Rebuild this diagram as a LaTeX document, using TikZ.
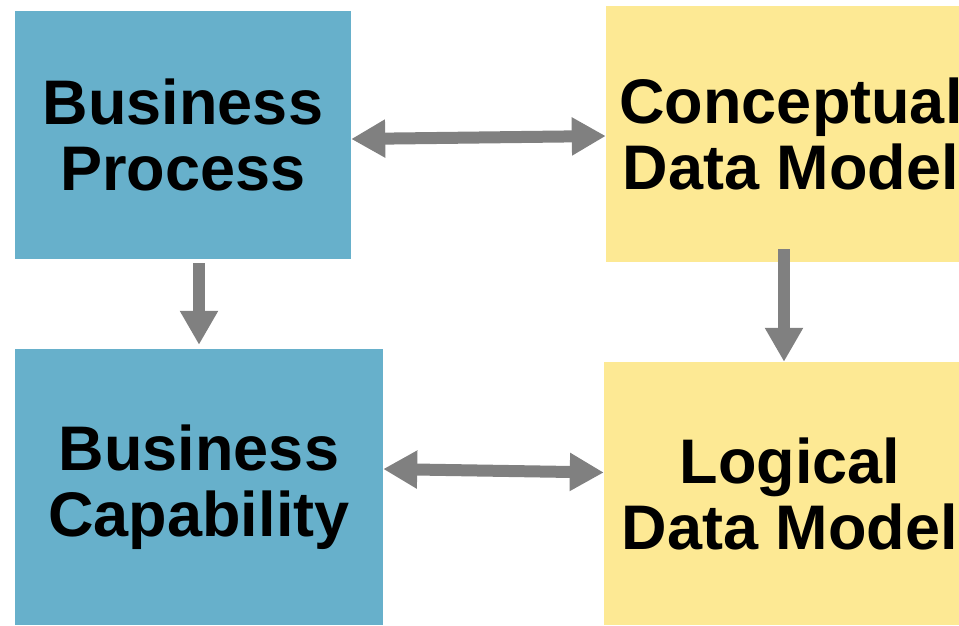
\documentclass[tikz,border=0pt]{standalone}
\usepackage{fontspec}
\setmainfont{Liberation Sans}
\usetikzlibrary{arrows.meta}
\definecolor{boxblue}{HTML}{67B0CB}
\definecolor{boxyellow}{HTML}{FDE994}
\definecolor{arrgray}{HTML}{808080}
\tikzset{
  box/.style={inner sep=0pt, align=center, font=\fontsize{63}{66}\selectfont\bfseries},
  bluebox/.style={box, fill=boxblue},
  yellowbox/.style={box, fill=boxyellow},
  arr/.style={draw=arrgray, line width=12pt, -{Triangle[length=34pt,width=36pt]}},
  darr/.style={draw=arrgray, line width=12pt, {Triangle[length=34pt,width=36pt]}-{Triangle[length=34pt,width=36pt]}}
}
\begin{document}
\begin{tikzpicture}[x=1pt,y=-1pt]
\useasboundingbox (0,0) rectangle (959,625);
\node[bluebox, minimum width=336pt, minimum height=248pt] (bp) at (183,135) {Business\\Process};
\node[yellowbox, minimum width=370pt, minimum height=256pt] (cdm) at (791,134) {Conceptual\\Data Model};
\node[bluebox, minimum width=368pt, minimum height=276pt] (bc) at (199,487) {Business\\Capability};
\node[yellowbox, minimum width=372pt, minimum height=263pt] (ldm) at (790,493.5) {Logical\\Data Model};
\draw[darr] ([yshift=-4pt]bp.east) -- ([yshift=-2pt]cdm.west);
\draw[darr] ([yshift=18pt]bc.east) -- ([yshift=21pt]ldm.west);
\draw[arr, shorten <=4pt, shorten >=4pt] (bp.south -| bc.north) -- (bc.north);
\draw[arr] ([xshift=-7pt,yshift=13pt]cdm.south) -- ([xshift=-6pt]ldm.north);
\end{tikzpicture}
\end{document}
